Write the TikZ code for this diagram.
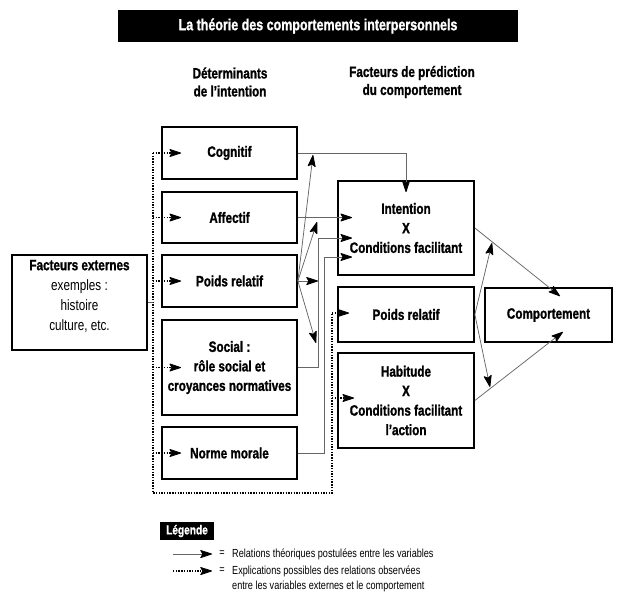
\documentclass[tikz,border=0pt]{standalone}
\usepackage{fontspec}
\setmainfont{Liberation Sans}[FakeStretch=0.78, BoldFeatures={FakeBold=1.2}]
\usetikzlibrary{arrows.meta}
\tikzset{
  tipstyle/.tip={Stealth[length=13pt,width=8.5pt,inset=2.5pt,color=black,fill=black,line width=0.8pt,round]},
  box/.style={draw=black, line width=1.7pt, minimum width=135pt, align=center, inner sep=2pt,
    font=\bfseries\fontsize{15}{19.5}\selectfont},
  hdr/.style={align=center, inner sep=0pt, font=\bfseries\fontsize{15}{18}\selectfont},
  conn/.style={draw=black!60, line width=0.75pt, -tipstyle},
  plain/.style={draw=black!60, line width=0.75pt},
  dots/.style={draw=black, line width=1.4pt, dash pattern=on 1.4pt off 1.3pt},
  dotarrow/.style={dots, -tipstyle},
  legtxt/.style={inner sep=0pt, align=left, font=\fontsize{11.7}{15}\selectfont},
}
\begin{document}
\begin{tikzpicture}[x=1pt,y=-1pt]
\useasboundingbox (0,0) rectangle (620,598);

% title and headers
\node[fill=black, text=white, minimum width=400pt, minimum height=32pt, inner sep=0pt,
      font=\bfseries\fontsize{16}{18}\selectfont] (title) at (318,26)
      {La théorie des comportements interpersonnels};
\node[hdr] (h1) at (230,82) {Déterminants\\de l’intention};
\node[hdr] (h2) at (412,82) {Facteurs de prédiction\\du comportement};

% left column
\node[box, minimum height=52pt] (cog) at (229.5,153) {Cognitif};
\node[box, minimum height=51pt] (aff) at (229.5,217.5) {Affectif};
\node[box, minimum height=52pt] (poidsL) at (229.5,281) {Poids relatif};
\node[box, minimum height=95pt] (soc) at (229.5,367.5) {Social :\\rôle social et\\croyances normatives};
\node[box, minimum height=52pt] (norme) at (229.5,453) {Norme morale};

% external factors
\node[box, minimum height=95pt] (ext) at (79.5,302.5) {};
\node[align=center, inner sep=0pt, font=\fontsize{15}{20}\selectfont] (exttxt) at (79.5,296)
      {\textbf{Facteurs externes}\\exemples :\\histoire\\culture, etc.};

% middle column
\node[box, minimum width=136pt, minimum height=94pt] (inten) at (406,228) {Intention\\X\\Conditions facilitant};
\node[box, minimum width=136pt, minimum height=55pt] (poidsM) at (406,314.5) {Poids relatif};
\node[box, minimum width=136pt, minimum height=95pt] (hab) at (406,400.5) {Habitude\\X\\Conditions facilitant\\l’action};

% right
\node[box, minimum width=127pt, minimum height=54pt] (comp) at (548.5,315) {Comportement};

% dotted structure
\coordinate (dTop) at (153,153);
\coordinate (dBot) at (153,493);
\coordinate (dBR) at (332,493);
\coordinate (dEnd) at (332,313);
\coordinate (dHab) at (332,398);
\draw[dots] (dTop) -- (dBot) -- (dBR) -- (dEnd);
\draw[plain] (ext.east) -- (dTop |- ext.east);
\draw[dotarrow] (dTop) -- ([xshift=20pt]cog.west);
\draw[dotarrow] (dTop |- aff.west) -- ([xshift=20pt]aff.west);
\draw[dotarrow] (dTop |- poidsL.west) -- ([xshift=20pt]poidsL.west);
\draw[dotarrow] (dTop |- soc.west) -- ([xshift=20pt]soc.west);
\draw[dotarrow] (dTop |- norme.west) -- ([xshift=20pt]norme.west);
\draw[dotarrow] (dEnd) -- ([xshift=12pt]poidsM.west |- dEnd);
\draw[dotarrow] (dHab) -- ([xshift=17pt]hab.west |- dHab);

% determinants -> intention
\coordinate (socTurn) at (318,238);
\coordinate (normeTurn) at (324,257);
\draw[conn] (cog.east) -| ([yshift=-12pt]inten.north);
\draw[conn] (aff.east) -- ([xshift=15pt]inten.west |- aff.east);
\draw[conn] (soc.east) -| (socTurn) -- ([xshift=15pt]inten.west |- socTurn);
\draw[conn] (norme.east) -| (normeTurn) -- ([xshift=15pt]inten.west |- normeTurn);

% poids relatif (left) fan
\coordinate (pa) at (313,155);
\coordinate (pb) at (317,222);
\coordinate (pc) at (318,281);
\coordinate (pd) at (316,343);
\draw[conn] (poidsL.east) -- (pa);
\draw[conn] (poidsL.east) -- (pb);
\draw[conn] (poidsL.east) -- (pc);
\draw[conn] (poidsL.east) -- (pd);

% to behaviour
\draw[conn] (inten.east) -- ([xshift=11.5pt,yshift=-9pt]comp.north);
\draw[conn] (hab.east) -- ([xshift=14.5pt,yshift=11pt]comp.south);
\coordinate (qa) at (492,243);
\coordinate (qb) at (490,387);
\draw[conn] (poidsM.east) -- (qa);
\draw[conn] (poidsM.east) -- (qb);

% legend
\node[fill=black, text=white, minimum width=54pt, minimum height=18pt, inner sep=0pt,
      font=\bfseries\fontsize{13}{14}\selectfont] (leg) at (187,531) {Légende};
\coordinate (l1a) at (173,554);
\coordinate (l1b) at (212,554);
\coordinate (l2a) at (173,571);
\coordinate (l2b) at (212,571);
\draw[conn] (l1a) -- (l1b);
\draw[dotarrow] (l2a) -- (l2b);
\node[legtxt] (eq1) at (222,554) {=};
\node[legtxt] (eq2) at (222,571) {=};
\node[legtxt, anchor=west] (t1) at (232,554) {Relations théoriques postulées entre les variables};
\node[legtxt, anchor=west] (t2) at (232,578.5) {Explications possibles des relations observées\\entre les variables externes et le comportement};
\end{tikzpicture}
\end{document}
